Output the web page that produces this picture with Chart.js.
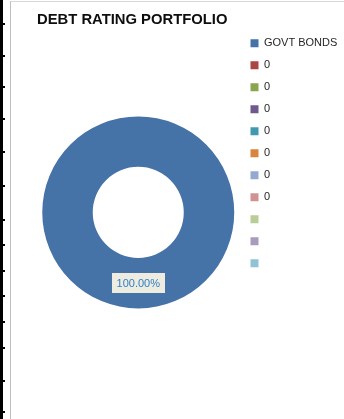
<!DOCTYPE html>
<html>
<head>
<meta charset="utf-8">
<script src="https://cdn.jsdelivr.net/npm/chart.js@4.4.0/dist/chart.umd.min.js"></script>
<style>
    body { margin: 0; width: 344px; height: 419px; overflow: hidden; background: #fff; position: relative; }
    .bar { position: absolute; left: 0; top: 0; width: 3px; height: 419px; background: #000; }
    .tick { position: absolute; left: 0; width: 5px; height: 2px; background: #000; }
    .frame { position: absolute; left: 10px; top: 1px; width: 334px; height: 418px;
             border-left: 1px solid #bfbfbf; border-top: 1px solid #d9d9d9; box-sizing: border-box; }
    #ratingChart { position: absolute; left: 11px; top: 2px; }
</style>
</head>
<body>
<div class="bar"></div>
<div class="frame"></div>
<canvas id="ratingChart" width="333" height="417"></canvas>
<script>
// Chart data
const categories = ['GOVT BONDS', '0', '0', '0', '0', '0', '0', '0', '', '', ''];
const shares = [100, 0, 0, 0, 0, 0, 0, 0, 0, 0, 0];
const sliceColors = ['#4572a7', '#aa4643', '#89a54e', '#71588f', '#4198af', '#db843d',
                     '#93a9cf', '#d19392', '#b9cd96', '#a99bbd', '#92c3d5'];

// Spreadsheet row edges on the left margin
const rowEdges = [24, 56, 87, 119, 152, 186, 220, 245, 271, 296, 322, 348, 381, 412];
rowEdges.forEach(y => {
    const t = document.createElement('div');
    t.className = 'tick';
    t.style.top = (y - 1) + 'px';
    document.body.appendChild(t);
});

const fontFamily = '"Liberation Sans", Arial, sans-serif';

// Percentage label in a box, like Excel data labels
const pctLabels = {
    id: 'pctLabels',
    afterDatasetsDraw(chart) {
        const ctx = chart.ctx;
        const meta = chart.getDatasetMeta(0);
        const total = shares.reduce((a, b) => a + b, 0);
        ctx.save();
        ctx.font = '11px ' + fontFamily;
        ctx.textAlign = 'center';
        ctx.textBaseline = 'middle';
        meta.data.forEach((arc, i) => {
            if (!shares[i]) return;
            const p = arc.tooltipPosition();
            const text = (shares[i] / total * 100).toFixed(2) + '%';
            const w = ctx.measureText(text).width + 10;
            const h = 20;
            ctx.fillStyle = '#eeece1';
            ctx.fillRect(Math.round(p.x - w / 2), Math.round(p.y - h / 2), Math.round(w), h);
            ctx.fillStyle = '#2f80c4';
            ctx.fillText(text, p.x, p.y + 1);
        });
        ctx.restore();
    }
};

new Chart(document.getElementById('ratingChart'), {
    type: 'doughnut',
    data: {
        labels: categories,
        datasets: [{
            data: shares,
            backgroundColor: sliceColors,
            borderWidth: 0,
            radius: 96,
            cutout: 48
        }]
    },
    options: {
        responsive: false,
        animation: false,
        layout: { padding: { left: 26, right: 0, top: 0, bottom: 27 } },
        plugins: {
            title: {
                display: true,
                text: 'DEBT RATING PORTFOLIO',
                align: 'start',
                color: '#0d0d0d',
                font: { family: fontFamily, size: 14.8, weight: 'bold' },
                padding: { top: 9, bottom: 4 }
            },
            legend: {
                position: 'right',
                align: 'start',
                maxWidth: 104.5,
                title: { display: true, text: '', font: { size: 10 }, padding: { top: 0, bottom: 12.8 } },
                labels: {
                    boxWidth: 8,
                    boxHeight: 8,
                    padding: 11,
                    color: '#262626',
                    font: { family: fontFamily, size: 11 }
                }
            },
            tooltip: { enabled: false }
        }
    },
    plugins: [pctLabels]
});
</script>
</body>
</html>
